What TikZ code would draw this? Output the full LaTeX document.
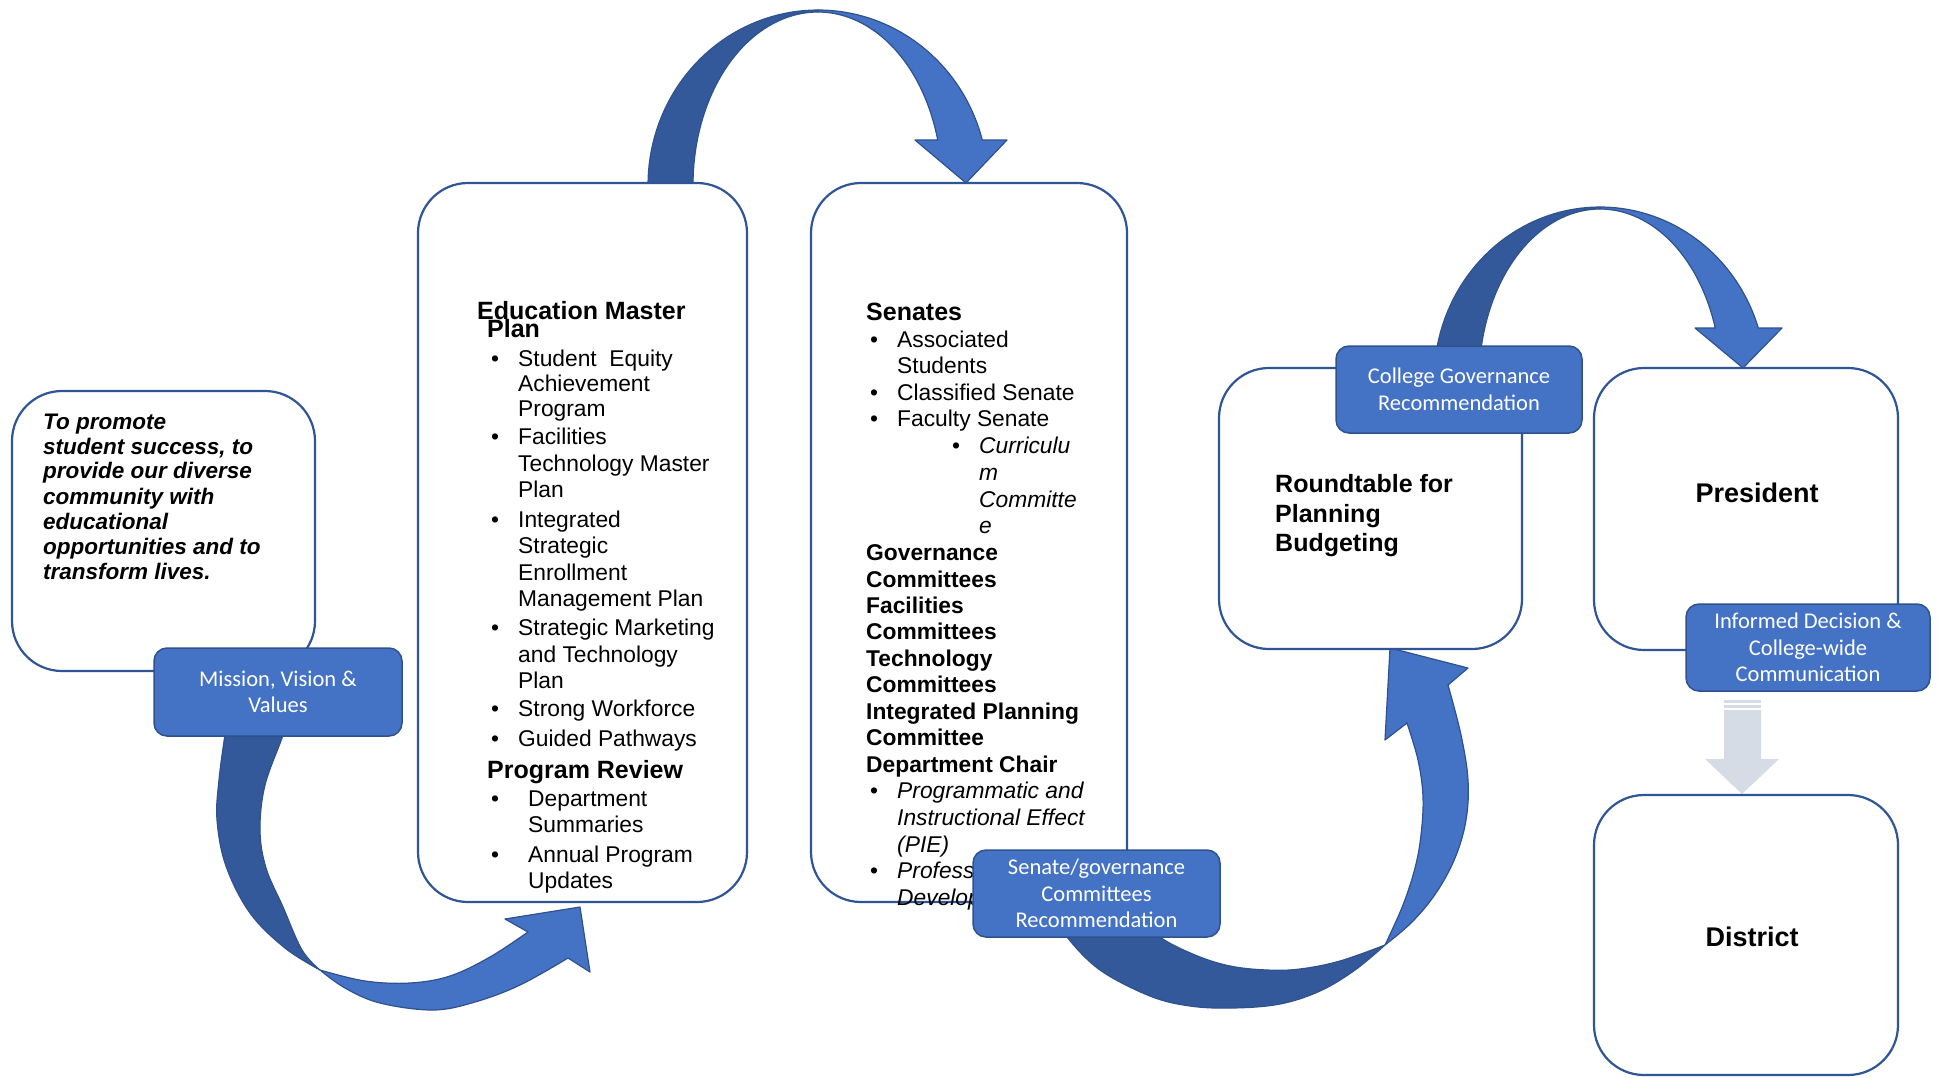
\documentclass[tikz,border=0pt]{standalone}
\usepackage{fontspec}
\setmainfont{Liberation Sans}
\newfontfamily\calibri{Carlito}

\definecolor{boxline}{HTML}{2F5597}
\definecolor{tagfill}{HTML}{4472C4}
\definecolor{tagline}{HTML}{2F528F}
\definecolor{bandfront}{HTML}{4472C4}
\definecolor{bandback}{HTML}{33599A}
\definecolor{stripe}{HTML}{D6DCE5}

\newcommand\headfont{\fontsize{25pt}{30pt}\selectfont\bfseries}
\newcounter{lineno}
\newcommand\putline[3]{\stepcounter{lineno}\node[txtline] (ln\arabic{lineno}) at (#1,#2) {#3};}
\newcommand\putitem[4]{\stepcounter{lineno}%
  \node[txtline] (bt\arabic{lineno}) at (#1,#3) {\textbullet};%
  \node[txtline] (ln\arabic{lineno}) at (#2,#3) {#4};}

\tikzset{
  panel/.style={draw=boxline, line width=2.2pt, fill=white, rounded corners=50pt, inner sep=0pt},
  tag/.style={draw=tagline, line width=1.5pt, fill=tagfill, rounded corners=13pt,
    text=white, align=center, inner sep=0pt, font=\calibri\fontsize{22.5pt}{26.5pt}\selectfont},
  front/.style={fill=bandfront, draw=tagline, line width=1.2pt, line join=round},
  back/.style={fill=bandback, draw=tagline, line width=1.2pt, line join=round},
  txtline/.style={anchor=base west, inner sep=0pt, font=\fontsize{22.8pt}{26pt}\selectfont},
  bigword/.style={anchor=base, inner sep=0pt, font=\fontsize{27pt}{32pt}\selectfont\bfseries},
}

\begin{document}
\begin{tikzpicture}[x=1pt, y=-1pt]
\useasboundingbox (0,0) rectangle (1938,1077);
\fill[white] (0,0) rectangle (1938,1077);

% ---- curved band arrows (drawn first, boxes sit on top) ----
% Education Master Plan -> Senates
\draw[back] plot[domain=180:90, samples=40] ({818+170*cos(\x)},{185-175*sin(\x)})
  -- plot[domain=90:180, samples=40] ({818+125*cos(\x)},{185-173*sin(\x)}) -- cycle;
\draw[front] plot[domain=90:14.9, samples=40] ({818+170*cos(\x)},{185-175*sin(\x)})
  -- (1007,140) -- (966,183) -- (915,140)
  -- plot[domain=15.1:90, samples=40] ({818+124*cos(\x)},{185-173*sin(\x)}) -- cycle;

% Roundtable -> President
\draw[back] plot[domain=180:90, samples=40] ({1600+166*cos(\x)},{380-173*sin(\x)})
  -- plot[domain=90:180, samples=40] ({1600+121*cos(\x)},{380-171*sin(\x)}) -- cycle;
\draw[front] plot[domain=90:17.49, samples=40] ({1600+166*cos(\x)},{380-173*sin(\x)})
  -- (1782,328) -- (1743,368) -- (1695,328)
  -- plot[domain=17.7:90, samples=40] ({1600+121*cos(\x)},{380-171*sin(\x)}) -- cycle;

% Mission -> Education Master Plan
\draw[back] plot[smooth, tension=0.6] coordinates {(229,715) (225,735) (219,780) (217,820) (226,866) (250,913) (285,948) (320,970)}
  -- plot[smooth, tension=0.6] coordinates {(320,970) (302,950) (283,907) (266,868) (260,830) (265,785) (283,735) (287,715)} -- cycle;
\draw[front] plot[smooth, tension=0.6] coordinates {(320,970) (345,988) (380,1003) (433,1010) (475,1002) (520,985) (568,958)}
  -- (590,972) -- (580,907) -- (505,919)
  -- plot[smooth, tension=0.6] coordinates {(528,932) (490,957) (450,976) (410,983) (365,981) (320,970)} -- cycle;

% Senates -> Roundtable
\draw[back] plot[smooth, tension=0.6] coordinates {(1060,920) (1067,937) (1100,970) (1150,996) (1190,1006) (1233,1008) (1280,1004) (1320,991) (1355,970) (1385,945)}
  -- plot[smooth, tension=0.6] coordinates {(1385,945) (1340,961) (1300,969) (1267,970) (1230,966) (1195,955) (1160,937) (1150,920)} -- cycle;
\draw[front] plot[smooth, tension=0.6] coordinates {(1385,945) (1412,922) (1436,893) (1455,858) (1466,820) (1468,780) (1461,735) (1448,685)}
  -- (1468,668) -- (1390,648) -- (1385,740)
  -- plot[smooth, tension=0.6] coordinates {(1407,723) (1418,760) (1423,797) (1421,835) (1415,868) (1403,905) (1385,945)} -- cycle;

% President -> District (striped block arrow)
\fill[stripe] (1724,700) rectangle (1761,702.5);
\fill[stripe] (1724,704.5) rectangle (1761,707.5);
\fill[stripe] (1724,710) -- (1761,710) -- (1761,759) -- (1779,759) -- (1742,794)
  -- (1705,759) -- (1724,759) -- cycle;

% ---- rounded panels ----
\node[panel, minimum width=303pt, minimum height=280pt] (mission) at (163.5,531) {};
\node[panel, minimum width=329pt, minimum height=719pt] (edu) at (582.5,542.5) {};
\node[panel, minimum width=316pt, minimum height=719pt] (sen) at (969,542.5) {};
\node[panel, minimum width=303pt, minimum height=281pt] (rtb) at (1370.5,508.5) {};
\node[panel, minimum width=304pt, minimum height=282pt] (pres) at (1746,509) {};
\node[panel, minimum width=304pt, minimum height=280pt] (dist) at (1746,935) {};

% ---- mission statement ----
\begin{scope}[txtline/.append style={font=\fontsize{22.5pt}{25pt}\selectfont\bfseries\itshape}]
\putline{43}{429}{To promote}
\putline{43}{454}{student success, to}
\putline{43}{478}{provide our diverse}
\putline{43}{504}{community with}
\putline{43}{529}{educational}
\putline{43}{554}{opportunities and to}
\putline{43}{579}{transform lives.}
\end{scope}

% ---- Education Master Plan ----
\putline{477}{319}{\headfont Education Master}
\putline{487}{337}{\headfont Plan}
\putitem{491}{518}{366}{Student\ \ Equity}
\putline{518}{391}{Achievement}
\putline{518}{416}{Program}
\putitem{491}{518}{444}{Facilities}
\putline{518}{471}{Technology Master}
\putline{518}{497}{Plan}
\putitem{491}{518}{527}{Integrated}
\putline{518}{553}{Strategic}
\putline{518}{580}{Enrollment}
\putline{518}{606}{Management Plan}
\putitem{491}{518}{635}{Strategic Marketing}
\putline{518}{662}{and Technology}
\putline{518}{688}{Plan}
\putitem{491}{518}{716}{Strong Workforce}
\putitem{491}{518}{746}{Guided Pathways}
\putline{487}{778}{\headfont Program Review}
\putitem{491}{528}{806}{Department}
\putline{528}{832}{Summaries}
\putitem{491}{528}{862}{Annual Program}
\putline{528}{888}{Updates}

% ---- Senates ----
\putline{866}{320}{\headfont Senates}
\putitem{870}{897}{347}{Associated}
\putline{897}{373}{Students}
\putitem{870}{897}{400}{Classified Senate}
\putitem{870}{897}{426}{Faculty Senate}
\putitem{952}{979}{453}{\itshape Curriculu}
\putline{979}{480}{\itshape m}
\putline{979}{507}{\itshape Committe}
\putline{979}{533}{\itshape e}
\putline{866}{560}{\bfseries Governance}
\putline{866}{587}{\bfseries Committees}
\putline{866}{613}{\bfseries Facilities}
\putline{866}{639}{\bfseries Committees}
\putline{866}{666}{\bfseries Technology}
\putline{866}{692}{\bfseries Committees}
\putline{866}{719}{\bfseries Integrated Planning}
\putline{866}{745}{\bfseries Committee}
\putline{866}{772}{\bfseries Department Chair}
\putitem{870}{897}{798}{\itshape Programmatic and}
\putline{897}{825}{\itshape Instructional Effect}
\putline{897}{852}{\itshape (PIE)}
\putitem{870}{897}{878}{\itshape Professional}
\putline{897}{905}{\itshape Development}

% ---- Roundtable, President, District ----
\putline{1275}{492}{\headfont Roundtable for}
\putline{1275}{522}{\headfont Planning}
\putline{1275}{551}{\headfont Budgeting}
\node[bigword] (prestext) at (1757,502) {President};
\node[bigword] (disttext) at (1752,946) {District};

% ---- blue tags ----
\node[tag, minimum width=248pt, minimum height=88pt] (mvv) at (278,692) {Mission, Vision \&\\Values};
\node[tag, minimum width=246pt, minimum height=87pt] (cgr) at (1459,389.5) {College Governance\\Recommendation};
\node[tag, minimum width=247pt, minimum height=87pt] (sgc) at (1096.5,893.5) {Senate/governance\\Committees\\Recommendation};
\node[tag, minimum width=244pt, minimum height=87pt] (idc) at (1808,647.5) {Informed Decision \&\\College-wide\\Communication};
\end{tikzpicture}
\end{document}
